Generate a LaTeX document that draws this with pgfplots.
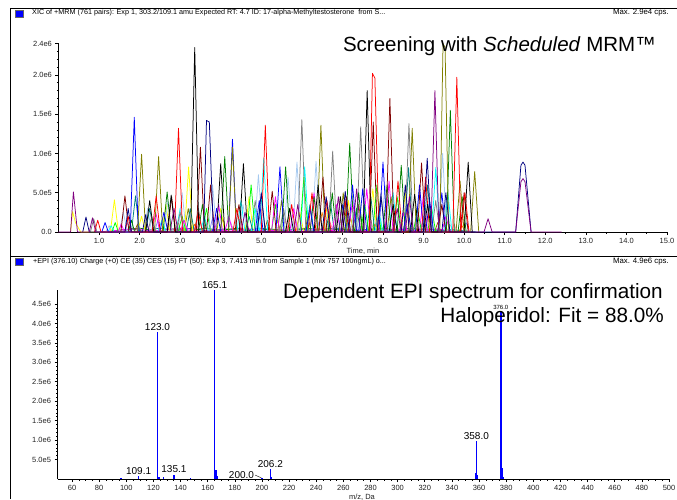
\documentclass[border=0pt]{standalone}
\usepackage{pgfplots}
\pgfplotsset{compat=1.18}
\usepackage{fontspec}
\setmainfont{Liberation Sans}
\definecolor{cBlack}{HTML}{000000}
\definecolor{cRed}{HTML}{FF0000}
\definecolor{cBlue}{HTML}{0000FF}
\definecolor{cNavy}{HTML}{000080}
\definecolor{cGreen}{HTML}{008000}
\definecolor{cLime}{HTML}{00FF00}
\definecolor{cOlive}{HTML}{808000}
\definecolor{cMaroon}{HTML}{800000}
\definecolor{cPurple}{HTML}{800080}
\definecolor{cMagenta}{HTML}{FF00FF}
\definecolor{cCyan}{HTML}{00FFFF}
\definecolor{cTeal}{HTML}{008080}
\definecolor{cGray}{HTML}{808080}
\definecolor{cLightBlue}{HTML}{A6CAF0}
\definecolor{cYellow}{HTML}{FFFF00}
\definecolor{cOrange}{HTML}{FF8000}
\definecolor{cBrown}{HTML}{A05000}
\definecolor{cPink}{HTML}{FF80C0}
\definecolor{cViolet}{HTML}{8080FF}
\definecolor{cSilver}{HTML}{C0C0C0}
\definecolor{TickText}{HTML}{222222}

\pgfplotsset{
  msaxis/.style={
    scale only axis,
    anchor=south west,
    axis x line*=bottom,
    axis y line*=left,
    axis line style={-,line width=0.8pt},
    tick align=outside,
    major tick length=3pt,
    minor tick length=1.5pt,
    tick style={line width=0.6pt,black},
    tick label style={font=\fontsize{7.5}{9}\selectfont,color=TickText},
    /pgf/number format/assume math mode=true,
    clip=false,
  },
  trace/.style={line width=0.75pt,mark=none,line join=round},
}

\begin{document}
\begin{tikzpicture}
\path[use as bounding box] (0pt,0pt) rectangle (677pt,499pt);

% ---------- top panel: XIC ----------
\begin{axis}[msaxis,
  at={(58.4pt,267pt)},
  width=608.6pt, height=188.5pt,
  xmin=0, xmax=15, ymin=0, ymax=2.4,
  xtick={1,2,...,15},
  minor x tick num=1,
  xticklabel style={/pgf/number format/.cd,fixed,fixed zerofill,precision=1},
  ytick={0,0.5,1,1.5,2,2.4},
  yticklabels={0.0,5.0e5,1.0e6,1.5e6,2.0e6,2.4e6},
  minor ytick={0.1,0.2,0.3,0.4,0.6,0.7,0.8,0.9,1.1,1.2,1.3,1.4,1.6,1.7,1.8,1.9,2.1,2.2,2.3},
]
% low-level traces forming the coloured baseline band
\addplot[trace,cTeal] coordinates {(1.5,0)(1.8,0.04)(2.1,0.01)(2.5,0.05)(2.9,0.02)(3.3,0.05)(3.7,0.01)(4.1,0.04)(4.6,0.02)(5.0,0.05)(5.4,0.01)(5.9,0.04)(6.3,0.02)(6.8,0.05)(7.2,0.01)(7.7,0.04)(8.2,0.02)(8.7,0.05)(9.2,0.01)(9.7,0.03)(10.3,0)};
\addplot[trace,cGreen] coordinates {(1.2,0)(1.6,0.03)(2.0,0.05)(2.4,0.01)(2.8,0.04)(3.2,0.01)(3.6,0.05)(4.0,0.02)(4.4,0.05)(4.8,0.01)(5.2,0.04)(5.7,0.01)(6.1,0.05)(6.6,0.02)(7.0,0.04)(7.5,0.01)(8.0,0.05)(8.5,0.01)(9.0,0.04)(9.5,0.02)(10.1,0)};
\addplot[trace,cMagenta] coordinates {(1.0,0)(1.4,0.02)(1.9,0.04)(2.3,0.01)(2.7,0.03)(3.1,0.05)(3.5,0.01)(3.9,0.03)(4.3,0.01)(4.7,0.04)(5.1,0.01)(5.5,0.03)(6.0,0.01)(6.4,0.04)(6.9,0.01)(7.3,0.03)(7.8,0.01)(8.3,0.04)(8.8,0.02)(9.3,0.04)(9.9,0)};
\addplot[trace,cSilver] coordinates {(1.17,0)(1.25,0.08)(1.33,0) (2.67,0)(2.75,0.10)(2.83,0) (4.17,0)(4.25,0.12)(4.33,0) (5.77,0)(5.85,0.15)(5.93,0) (7.07,0)(7.15,0.12)(7.23,0) (8.37,0)(8.45,0.15)(8.53,0) (9.57,0)(9.65,0.10)(9.73,0)};
\addplot[trace,cBrown] coordinates {(1.87,0)(1.95,0.10)(2.03,0) (2.87,0)(2.95,0.12)(3.03,0) (3.97,0)(4.05,0.18)(4.13,0) (5.07,0)(5.15,0.15)(5.23,0) (6.07,0)(6.15,0.20)(6.23,0) (7.12,0)(7.20,0.18)(7.28,0) (8.22,0)(8.30,0.15)(8.38,0) (9.27,0)(9.35,0.12)(9.43,0)};
\addplot[trace,cPink] coordinates {(2.12,0)(2.20,0.08)(2.28,0) (3.32,0)(3.40,0.10)(3.48,0) (4.42,0)(4.50,0.12)(4.58,0) (5.52,0)(5.60,0.14)(5.68,0) (6.62,0)(6.70,0.12)(6.78,0) (7.62,0)(7.70,0.15)(7.78,0) (8.72,0)(8.80,0.12)(8.88,0) (9.67,0)(9.75,0.10)(9.83,0)};
\addplot[trace,cViolet] coordinates {(1.62,0)(1.70,0.12)(1.78,0) (2.37,0)(2.45,0.15)(2.53,0) (3.72,0)(3.80,0.18)(3.88,0) (4.87,0)(4.95,0.20)(5.03,0) (6.37,0)(6.45,0.20)(6.53,0) (7.77,0)(7.85,0.18)(7.93,0) (8.92,0)(9.00,0.20)(9.08,0) (9.97,0)(10.05,0.12)(10.13,0)};
\addplot[trace,cOrange] coordinates {(3.27,0)(3.35,0.10)(3.43,0) (5.32,0)(5.40,0.15)(5.48,0) (6.40,0)(6.50,0.25)(6.60,0) (7.72,0)(7.80,0.10)(7.88,0) (8.50,0)(8.60,0.30)(8.70,0) (9.87,0)(9.95,0.08)(10.03,0)};
% second group of mid-level peaks (dense region 6.5-10 min)
\addplot[trace,cLightBlue] coordinates {(2.10,0)(2.20,0.30)(2.30,0) (4.45,0)(4.55,0.35)(4.65,0) (6.25,0)(6.35,0.90)(6.45,0) (7.95,0)(8.05,0.60)(8.15,0) (8.80,0)(8.90,0.55)(9.00,0)};
\addplot[trace,cYellow] coordinates {(2.55,0)(2.65,0.35)(2.75,0) (3.90,0)(4.00,0.30)(4.10,0) (7.05,0)(7.15,0.40)(7.25,0) (7.65,0)(7.75,0.55)(7.85,0) (9.05,0)(9.15,0.35)(9.25,0)};
\addplot[trace,cCyan] coordinates {(2.90,0)(3.00,0.30)(3.10,0) (4.40,0)(4.50,0.40)(4.60,0) (6.95,0)(7.05,0.40)(7.15,0) (8.15,0)(8.25,0.50)(8.35,0) (9.50,0)(9.60,0.50)(9.70,0)};
\addplot[trace,cLime] coordinates {(3.55,0)(3.65,0.30)(3.75,0) (5.25,0)(5.35,0.35)(5.45,0) (7.75,0)(7.85,0.60)(7.95,0) (8.25,0)(8.35,0.45)(8.45,0) (9.10,0)(9.20,0.30)(9.30,0)};
\addplot[trace,cMagenta] coordinates {(2.30,0)(2.40,0.25)(2.50,0) (3.85,0)(3.95,0.35)(4.05,0) (6.20,0)(6.30,0.50)(6.40,0) (7.50,0)(7.60,0.55)(7.70,0) (8.05,0)(8.15,0.65)(8.25,0) (8.90,0)(9.00,0.50)(9.10,0)};
\addplot[trace,cTeal] coordinates {(2.15,0)(2.25,0.30)(2.35,0) (4.90,0)(5.00,0.45)(5.10,0) (6.60,0)(6.70,0.40)(6.80,0) (7.60,0)(7.70,0.45)(7.80,0) (9.00,0)(9.10,0.60)(9.20,0)};
\addplot[trace,cGray] coordinates {(3.35,0)(3.45,0.30)(3.55,0) (4.75,0)(4.85,0.40)(4.95,0) (7.85,0)(7.95,0.50)(8.05,0) (9.20,0)(9.30,0.40)(9.40,0)};
\addplot[trace,cOlive] coordinates {(3.10,0)(3.20,0.30)(3.30,0) (5.40,0)(5.50,0.40)(5.60,0) (7.30,0)(7.40,0.35)(7.50,0) (8.10,0)(8.20,0.45)(8.30,0)};
% main peaks
\addplot[trace,cLightBlue] coordinates {(1.50,0)(1.60,0.25)(1.70,0) (2.60,0)(2.70,0.40)(2.80,0) (2.95,0)(3.05,0.50)(3.15,0) (3.70,0)(3.80,0.60)(3.90,0) (4.83,0)(4.93,0.73)(5.03,0) (5.56,0)(5.66,0.70)(5.76,0) (5.78,0)(5.88,0.89)(5.98,0) (7.20,0)(7.30,0.30)(7.40,0) (9.37,0)(9.47,1.00)(9.57,0)};
\addplot[trace,cYellow] coordinates {(0.30,0)(0.35,0.26)(0.42,0.12)(0.55,0) (1.28,0)(1.38,0.41)(1.48,0) (1.95,0)(2.05,0.20)(2.15,0) (3.11,0)(3.21,0.83)(3.31,0) (4.60,0)(4.70,0.45)(4.80,0) (5.85,0)(5.95,0.25)(6.05,0) (6.50,0)(6.60,0.30)(6.70,0) (8.45,0)(8.55,0.50)(8.65,0)};
\addplot[trace,cCyan] coordinates {(1.22,0)(1.30,0.08)(1.38,0) (2.45,0)(2.55,0.15)(2.65,0) (3.50,0)(3.60,0.20)(3.70,0) (4.75,0)(4.85,0.30)(4.95,0) (4.96,0)(5.06,0.94)(5.16,0) (5.97,0)(6.07,0.83)(6.17,0) (7.80,0)(7.90,0.25)(8.00,0) (9.20,0)(9.30,0.82)(9.40,0)};
\addplot[trace,cTeal] coordinates {(1.80,0)(1.90,0.46)(2.00,0) (3.15,0)(3.25,0.30)(3.35,0) (4.60,0)(4.70,0.20)(4.80,0) (6.10,0)(6.20,0.35)(6.30,0) (7.25,0)(7.35,0.30)(7.45,0) (8.53,0)(8.63,0.82)(8.73,0)};
\addplot[trace,cLime] coordinates {(1.32,0)(1.40,0.12)(1.48,0) (2.95,0)(3.05,0.20)(3.15,0) (4.65,0)(4.75,0.60)(4.85,0) (5.95,0)(6.05,0.70)(6.15,0) (7.45,0)(7.55,0.35)(7.65,0) (8.75,0)(8.85,0.30)(8.95,0)};
\addplot[trace,cMagenta] coordinates {(1.47,0)(1.55,0.10)(1.63,0) (3.00,0)(3.10,0.15)(3.20,0) (4.10,0)(4.20,0.20)(4.30,0) (5.25,0)(5.35,0.45)(5.45,0) (5.70,0)(5.80,0.30)(5.90,0) (6.75,0)(6.85,0.35)(6.95,0) (7.15,0)(7.25,0.40)(7.35,0) (8.40,0)(8.50,0.25)(8.60,0) (9.45,0)(9.55,0.20)(9.65,0)};
\addplot[trace,cGray] coordinates {(0.79,0)(0.87,0.17)(0.95,0) (2.20,0)(2.30,0.20)(2.40,0) (2.90,0)(3.00,0.25)(3.10,0) (5.45,0)(5.55,0.30)(5.65,0) (5.90,0)(6.00,1.43)(6.10,0) (6.66,0)(6.76,1.03)(6.86,0) (7.35,0)(7.45,1.34)(7.55,0) (8.54,0)(8.64,1.38)(8.74,0)};
\addplot[trace,cGreen] coordinates {(1.72,0)(1.80,0.15)(1.88,0) (2.58,0)(2.68,0.51)(2.78,0) (3.45,0)(3.55,0.35)(3.65,0) (4.00,0)(4.10,0.96)(4.20,0) (5.50,0)(5.60,0.83)(5.70,0) (6.20,0)(6.30,0.45)(6.40,0) (6.65,0)(6.75,0.50)(6.85,0) (7.08,0)(7.18,1.13)(7.28,0) (7.30,0)(7.40,0.50)(7.50,0) (8.00,0)(8.10,0.60)(8.20,0) (8.35,0)(8.45,0.85)(8.55,0) (9.56,0)(9.66,1.55)(9.76,0) (9.85,0)(9.95,0.45)(10.05,0)};
\addplot[trace,cBlue] coordinates {(1.07,0)(1.15,0.12)(1.23,0) (1.77,0)(1.87,1.46)(1.97,0) (2.50,0)(2.60,0.25)(2.70,0) (3.80,0)(3.90,0.30)(4.00,0) (4.19,0)(4.29,1.18)(4.39,0) (4.85,0)(4.95,0.40)(5.05,0) (5.36,0)(5.46,0.83)(5.56,0) (6.10,0)(6.20,0.30)(6.30,0) (6.90,0)(7.00,0.35)(7.10,0) (7.15,0)(7.25,0.60)(7.35,0) (7.40,0)(7.50,0.55)(7.60,0) (7.90,0)(8.00,0.89)(8.10,0) (8.50,0)(8.60,0.35)(8.70,0) (8.80,0)(8.90,0.60)(9.00,0) (9.05,0)(9.15,0.40)(9.25,0) (9.35,0)(9.45,0.50)(9.55,0)};
\addplot[trace,cOlive] coordinates {(1.95,0)(2.05,0.99)(2.15,0) (2.37,0)(2.47,0.96)(2.57,0) (4.19,0)(4.29,1.08)(4.39,0) (6.37,0)(6.47,1.36)(6.57,0) (6.92,0)(7.02,0.50)(7.12,0) (8.62,0)(8.72,1.32)(8.82,0) (9.40,0)(9.48,2.40)(9.53,2.35)(9.62,0) (9.80,0)(9.90,0.65)(10.00,0) (10.16,0)(10.26,0.77)(10.36,0)};
\addplot[trace,cMaroon] coordinates {(1.54,0)(1.64,0.46)(1.74,0) (2.69,0)(2.79,0.45)(2.89,0) (3.40,0)(3.50,1.08)(3.60,0) (3.65,0)(3.75,0.60)(3.85,0) (4.35,0)(4.45,0.35)(4.55,0) (5.17,0)(5.27,0.52)(5.37,0) (6.42,0)(6.52,0.70)(6.62,0) (7.00,0)(7.10,0.45)(7.20,0) (7.66,0)(7.76,1.40)(7.86,0) (8.07,0)(8.17,1.70)(8.27,0) (8.85,0)(8.95,0.88)(9.05,0) (9.35,0)(9.45,0.35)(9.55,0) (9.90,0)(10.00,0.50)(10.10,0)};
\addplot[trace,cRed] coordinates {(0.89,0)(0.97,0.15)(1.05,0) (1.64,0)(1.72,0.20)(1.80,0) (2.31,0)(2.41,0.46)(2.51,0) (2.86,0)(2.96,1.32)(3.06,0) (3.35,0)(3.45,0.25)(3.55,0) (4.30,0)(4.40,0.30)(4.50,0) (5.00,0)(5.10,1.36)(5.20,0) (5.65,0)(5.75,0.35)(5.85,0) (6.15,0)(6.25,0.50)(6.35,0) (6.52,0)(6.62,0.40)(6.72,0) (6.96,0)(7.06,0.42)(7.16,0) (7.66,0)(7.74,2.02)(7.80,1.96)(7.90,0) (8.27,0)(8.37,0.65)(8.47,0) (8.95,0)(9.05,0.70)(9.15,0) (9.72,0)(9.82,1.97)(9.92,0) (9.92,0)(10.02,0.50)(10.12,0)};
\addplot[trace,cNavy] coordinates {(0.60,0)(0.68,0.19)(0.76,0) (1.64,0)(1.72,0.30)(1.80,0) (2.07,0)(2.15,0.22)(2.23,0) (3.58,0)(3.65,1.42)(3.72,1.40)(3.82,0) (4.90,0)(5.00,0.50)(5.10,0) (6.50,0)(6.60,0.45)(6.70,0) (6.97,0)(7.07,0.52)(7.17,0) (7.85,0)(7.95,0.45)(8.05,0) (8.45,0)(8.55,0.60)(8.65,0) (8.99,0)(9.09,0.94)(9.19,0) (9.45,0)(9.55,0.50)(9.65,0) (11.27,0)(11.40,0.85)(11.45,0.89)(11.50,0.85)(11.65,0)};
\addplot[trace,cBlack] coordinates {(2.15,0)(2.25,0.40)(2.35,0) (2.68,0)(2.78,0.47)(2.88,0) (3.26,0)(3.36,2.35)(3.46,0) (3.90,0)(4.00,0.87)(4.10,0) (4.46,0)(4.56,0.87)(4.66,0) (5.60,0)(5.70,0.30)(5.80,0) (6.30,0)(6.40,0.60)(6.50,0) (6.85,0)(6.95,0.45)(7.05,0) (7.51,0)(7.61,1.80)(7.71,0) (8.15,0)(8.25,0.35)(8.35,0) (8.68,0)(8.78,0.48)(8.88,0) (9.00,0)(9.10,0.35)(9.20,0) (10.00,0)(10.10,0.89)(10.20,0)};
\addplot[trace,cPurple] coordinates {(0.00,0)(0.30,0)(0.37,0.51)(0.47,0) (0.76,0)(0.84,0.18)(0.92,0) (2.75,0)(2.85,0.30)(2.95,0) (4.50,0)(4.60,0.25)(4.70,0) (5.80,0)(5.90,0.35)(6.00,0) (6.80,0)(6.90,0.45)(7.00,0) (7.25,0)(7.35,0.55)(7.45,0) (8.25,0)(8.35,0.30)(8.45,0) (8.55,0)(8.65,0.45)(8.75,0) (9.18,0)(9.28,1.80)(9.38,0) (10.49,0)(10.59,0.17)(10.69,0) (11.27,0)(11.40,0.64)(11.45,0.68)(11.50,0.64)(11.65,0)(12.40,0)};
\end{axis}

% ---------- bottom panel: EPI spectrum ----------
\begin{axis}[msaxis,
  at={(57.5pt,20pt)},
  width=611.5pt, height=189pt,
  xmin=49.3, xmax=500, ymin=0, ymax=4.86,
  xtick={60,80,...,500},
  minor x tick num=3,
  ytick={0.5,1,1.5,2,2.5,3,3.5,4,4.5},
  yticklabels={5.0e5,1.0e6,1.5e6,2.0e6,2.5e6,3.0e6,3.5e6,4.0e6,4.5e6},
  minor y tick num=4,
  every node/.append style={font=\fontsize{7}{8.5}\selectfont,color=TickText},
]
\addplot[ycomb,cBlue,line width=1.5pt,mark=none] coordinates {
  (96.0,0.03) (109.1,0.08) (123.0,3.78) (124.0,0.06) (127.5,0.04)
  (135.1,0.11) (147.2,0.03) (165.1,4.86) (166.1,0.23) (167.1,0.08)
  (200.0,0.02) (206.2,0.26) (207.2,0.05) (357.5,0.15) (358.0,0.98)
  (359.0,0.10) (376.0,4.32) (377.0,0.28) (378.0,0.06)
};
\node[above,inner sep=1.5pt] at (axis cs:109.1,0.08) {109.1};
\node[above,inner sep=1.5pt] at (axis cs:123.0,3.78) {123.0};
\node[above,inner sep=1.5pt] at (axis cs:135.1,0.11) {135.1};
\node[above,inner sep=1.5pt] at (axis cs:165.1,4.86) {165.1};
\node[above,inner sep=1.5pt] at (axis cs:206.2,0.26) {206.2};
\node[above,inner sep=1.5pt] at (axis cs:358.0,0.98) {358.0};
\node[above,inner sep=1pt,font=\fontsize{6}{7}\selectfont] at (axis cs:376.0,4.32) {376.0};
\node[anchor=east,inner sep=1pt] at (axis cs:195.0,0.11) {200.0};
\draw[black,line width=0.4pt] (axis cs:195.0,0.10) -- (axis cs:199.5,0.03);
\end{axis}

% ---------- frame, headers and titles ----------
\draw[line width=0.8pt] (10pt,491pt) -- (677pt,491pt);
\draw[line width=0.8pt] (10pt,0pt) -- (10pt,491pt);
\draw[line width=0.8pt] (10pt,243pt) -- (677pt,243pt);

\fill[cBlue] (15pt,482pt) rectangle (23pt,489pt);
\draw[black!60,line width=0.3pt] (15pt,482pt) rectangle (23pt,489pt);
\node[anchor=west,inner sep=0pt,font=\fontsize{7.2}{8.5}\selectfont] at (32pt,486pt)
  {XIC of +MRM (761 pairs): Exp 1, 303.2/109.1 amu Expected RT: 4.7 ID: 17-alpha-Methyltestosterone\ \ from S...};
\node[anchor=east,inner sep=0pt,font=\fontsize{7.8}{9}\selectfont] at (669pt,486pt) {Max. 2.9e4 cps.};

\fill[cBlue] (15pt,234pt) rectangle (23pt,241pt);
\draw[black!60,line width=0.3pt] (15pt,234pt) rectangle (23pt,241pt);
\node[anchor=west,inner sep=0pt,font=\fontsize{7.2}{8.5}\selectfont] at (33pt,237pt)
  {+EPI (376.10) Charge (+0) CE (35) CES (15) FT (50): Exp 3, 7.413 min from Sample 1 (mix 757 100ngmL) o...};
\node[anchor=east,inner sep=0pt,font=\fontsize{7.8}{9}\selectfont] at (669pt,237pt) {Max. 4.9e6 cps.};

\node[font=\fontsize{7.5}{9}\selectfont,color=TickText] at (363pt,248pt) {Time, min};
\node[font=\fontsize{7.5}{9}\selectfont,color=TickText] at (362pt,1.5pt) {m/z, Da};

\node[anchor=east,inner sep=0pt,font=\fontsize{20.5}{24}\selectfont] at (656pt,453pt)
  {Screening with \textit{Scheduled} MRM™};
\node[anchor=east,inner sep=0pt,font=\fontsize{20.7}{24}\selectfont] at (663pt,206pt)
  {Dependent EPI spectrum for confirmation};
\node[anchor=east,inner sep=0pt,font=\fontsize{20.7}{24}\selectfont] at (664pt,182pt)
  {Haloperidol: Fit = 88.0\%};
\end{tikzpicture}
\end{document}
